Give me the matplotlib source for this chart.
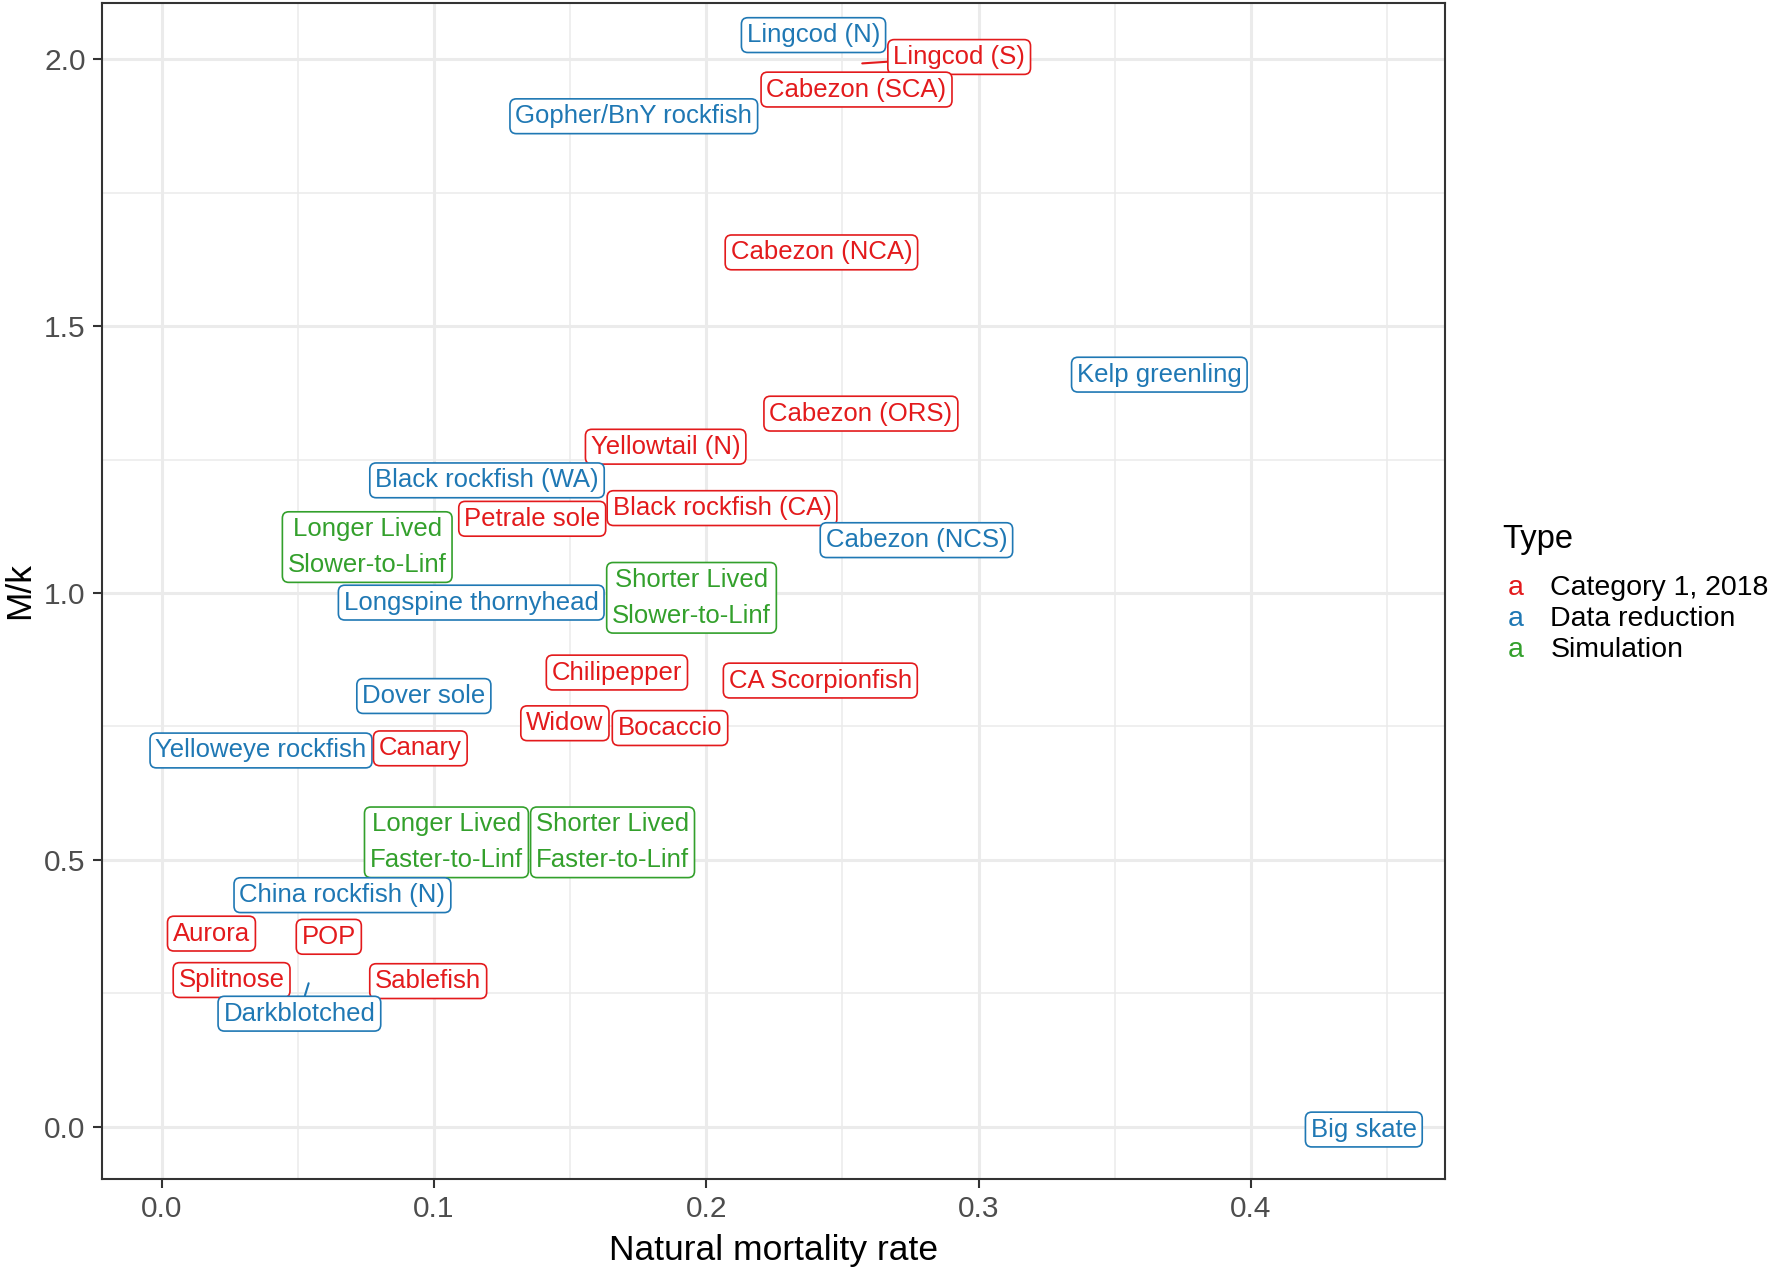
import numpy as np
import matplotlib.pyplot as plt

plt.rcParams['font.family'] = ['Liberation Sans', 'DejaVu Sans']

# label positions (as placed in the chart) and type
species = ["Lingcod (N)", "Lingcod (S)", "Cabezon (SCA)", "Gopher/BnY rockfish",
           "Cabezon (NCA)", "Kelp greenling", "Cabezon (ORS)", "Yellowtail (N)",
           "Black rockfish (WA)", "Black rockfish (CA)", "Petrale sole",
           "Longer Lived\nSlower-to-Linf", "Cabezon (NCS)",
           "Shorter Lived\nSlower-to-Linf", "Longspine thornyhead", "Chilipepper",
           "CA Scorpionfish", "Dover sole", "Widow", "Bocaccio",
           "Yelloweye rockfish", "Canary", "Longer Lived\nFaster-to-Linf",
           "Shorter Lived\nFaster-to-Linf", "China rockfish (N)", "Aurora", "POP",
           "Splitnose", "Sablefish", "Darkblotched", "Big skate"]
label_m = [0.2394, 0.2929, 0.2552, 0.1734, 0.2423, 0.3664, 0.2568, 0.1851,
           0.1195, 0.2058, 0.1361, 0.0755, 0.2772, 0.1946, 0.1137, 0.1672,
           0.2419, 0.0963, 0.1481, 0.1867, 0.0365, 0.0950, 0.1046, 0.1656,
           0.0664, 0.0183, 0.0614, 0.0257, 0.0979, 0.0506, 0.4415]
label_mk = [2.045, 2.004, 1.943, 1.893, 1.638, 1.409, 1.336, 1.274,
            1.211, 1.159, 1.139, 1.086, 1.099, 0.991, 0.982, 0.851,
            0.836, 0.807, 0.756, 0.747, 0.705, 0.709, 0.533, 0.533,
            0.434, 0.362, 0.356, 0.275, 0.273, 0.212, -0.005]
types = ["Data reduction", "Category 1, 2018", "Category 1, 2018", "Data reduction",
         "Category 1, 2018", "Data reduction", "Category 1, 2018", "Category 1, 2018",
         "Data reduction", "Category 1, 2018", "Category 1, 2018", "Simulation",
         "Data reduction", "Simulation", "Data reduction", "Category 1, 2018",
         "Category 1, 2018", "Data reduction", "Category 1, 2018", "Category 1, 2018",
         "Data reduction", "Category 1, 2018", "Simulation", "Simulation",
         "Data reduction", "Category 1, 2018", "Category 1, 2018",
         "Category 1, 2018", "Category 1, 2018", "Data reduction", "Data reduction"]

# points whose labels were pushed away (drawn with a segment)
seg_species = ["Lingcod (S)", "Darkblotched"]
seg_m = [0.2573, 0.0540]
seg_mk = [1.992, 0.269]

type_names = ["Category 1, 2018", "Data reduction", "Simulation"]
type_colors = ["#E31A1C", "#1F78B4", "#33A02C"]
col = dict(zip(type_names, type_colors))

fig = plt.figure(figsize=(17.72, 12.69), dpi=100)
ax = fig.add_axes([0.0574, 0.0712, 0.7582, 0.9268])

ax.set_xlim(-0.022, 0.4714)
ax.set_ylim(-0.097, 2.106)
ax.set_xticks([0.0, 0.1, 0.2, 0.3, 0.4])
ax.set_xticks([0.05, 0.15, 0.25, 0.35, 0.45], minor=True)
ax.set_yticks([0.0, 0.5, 1.0, 1.5, 2.0])
ax.set_yticks([0.25, 0.75, 1.25, 1.75], minor=True)
ax.set_xticklabels(["0.0", "0.1", "0.2", "0.3", "0.4"])
ax.set_yticklabels(["0.0", "0.5", "1.0", "1.5", "2.0"])
ax.grid(which='major', color='#EBEBEB', linewidth=2.2)
ax.grid(which='minor', color='#EBEBEB', linewidth=1.1)
ax.set_axisbelow(True)
ax.tick_params(which='major', length=6.5, width=1.5, color='#333333',
               labelsize=21.5, labelcolor='#4D4D4D', pad=5)
ax.tick_params(which='minor', length=0)
for s in ax.spines.values():
    s.set_color('#333333')
    s.set_linewidth(1.5)

ax.set_xlabel("Natural mortality rate", fontsize=25.5, labelpad=8)
ax.set_ylabel("M/k", fontsize=25.5, labelpad=6)

for name, x, y, t in zip(species, label_m, label_mk, types):
    c = col[t]
    bbox = dict(boxstyle='round,pad=0.21,rounding_size=0.25', fc='white', ec=c, lw=1.2)
    if name in seg_species:
        i = seg_species.index(name)
        ax.annotate(name, xy=(seg_m[i], seg_mk[i]), xytext=(x, y), color=c,
                    fontsize=18.5, ha='center', va='center', linespacing=1.62,
                    bbox=bbox, zorder=3,
                    arrowprops=dict(arrowstyle='-', color=c, lw=1.5,
                                    shrinkA=0, shrinkB=0))
    else:
        ax.text(x, y, name, color=c, fontsize=18.5, ha='center', va='center',
                linespacing=1.62, bbox=bbox, zorder=3)

# legend
fig.text(0.8475, 0.575, "Type", fontsize=23.5, ha='left', va='center')
for i, (n, c) in enumerate(zip(type_names, type_colors)):
    yy = 0.537 - i * 0.0245
    fig.text(0.8555, yy, "a", color=c, fontsize=20.5, ha='center', va='center')
    fig.text(0.875, yy, n, fontsize=20.5, ha='left', va='center')

fig.savefig("out.png", dpi=100)
